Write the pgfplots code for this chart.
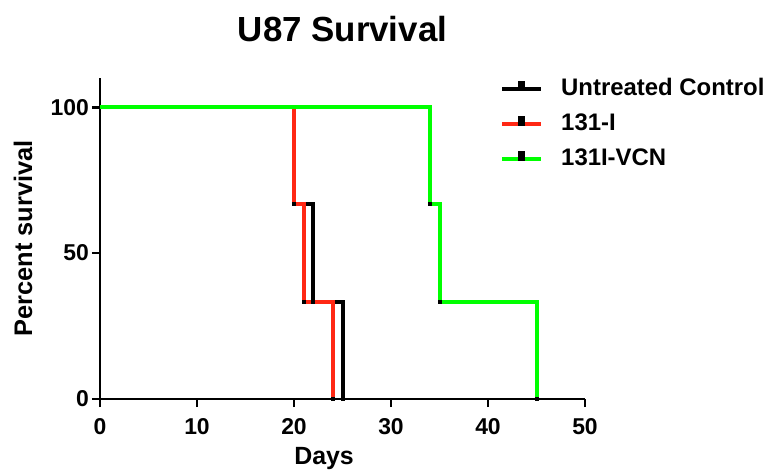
\documentclass[border=0pt]{standalone}
\usepackage{pgfplots}
\pgfplotsset{compat=1.18}
\usepackage{fontspec}
\setmainfont{Liberation Sans}
\definecolor{kmred}{RGB}{255,40,20}
\definecolor{kmgreen}{RGB}{0,255,0}
\begin{document}
\begin{tikzpicture}
\useasboundingbox (-100bp,-74bp) rectangle (680bp,399bp);
\begin{axis}[
  scale only axis,
  width=485bp, height=321bp,
  xmin=0, xmax=50, ymin=0, ymax=110,
  xtick={0,10,20,30,40,50},
  ytick={0,50,100},
  axis lines=left,
  axis line style={-, line width=2.8bp, black},
  tick align=outside,
  major tick length=8bp,
  tick style={line width=2.8bp, black},
  xtick pos=left, ytick pos=left,
  /pgf/number format/assume math mode=true,
  tick label style={font=\fontsize{23}{27}\selectfont\bfseries},
  yticklabel style={inner sep=3bp},
  xticklabel style={inner sep=3bp, yshift=-8bp},
  clip=false,
  title={U87 Survival},
  title style={at={(0.5,1.0966)}, anchor=base, yshift=0pt, font=\fontsize{35}{40}\selectfont\bfseries},
  xlabel={Days},
  xlabel style={at={(0.462,-0.2056)}, anchor=base, font=\fontsize{25}{30}\selectfont\bfseries},
  ylabel={Percent survival},
  ylabel style={at={(-0.1402,0.5)}, anchor=base, font=\fontsize{25.5}{30}\selectfont\bfseries},
  legend cell align=left,
  legend style={draw=none, fill=none, at={(0.8186,1.0093)}, anchor=north west,
    font=\fontsize{24}{28}\selectfont\bfseries, row sep=12bp,
    nodes={inner sep=0pt, text height=18bp, text depth=5bp},
    /tikz/every odd column/.append style={column sep=18bp}},
  legend image code/.code={
    \draw[#1, line width=4bp] (0bp,0bp) -- (39bp,0bp);
    \fill[black] (17.9bp,0bp) rectangle (21.1bp,5.5bp);
  },
]
\addplot[const plot, black, line width=4bp, mark=square*, mark size=1.5bp,
  mark indices={2,3,4}, mark options={black, fill=black, draw=none, line width=0pt}]
  coordinates {(0,100) (20,66.67) (22,33.33) (25,0)};
\addlegendentry{Untreated Control}
\addplot[const plot, kmred, line width=4bp, mark=square*, mark size=1.5bp,
  mark indices={2,3,4}, mark options={black, fill=black, draw=none, line width=0pt}]
  coordinates {(0,100) (20,66.67) (21,33.33) (24,0)};
\addlegendentry{131-I}
\addplot[const plot, kmgreen, line width=4bp, mark=square*, mark size=1.5bp,
  mark indices={2,3,4}, mark options={black, fill=black, draw=none, line width=0pt}]
  coordinates {(0,100) (34,66.67) (35,33.33) (45,0)};
\addlegendentry{131I-VCN}
\end{axis}
\end{tikzpicture}
\end{document}
